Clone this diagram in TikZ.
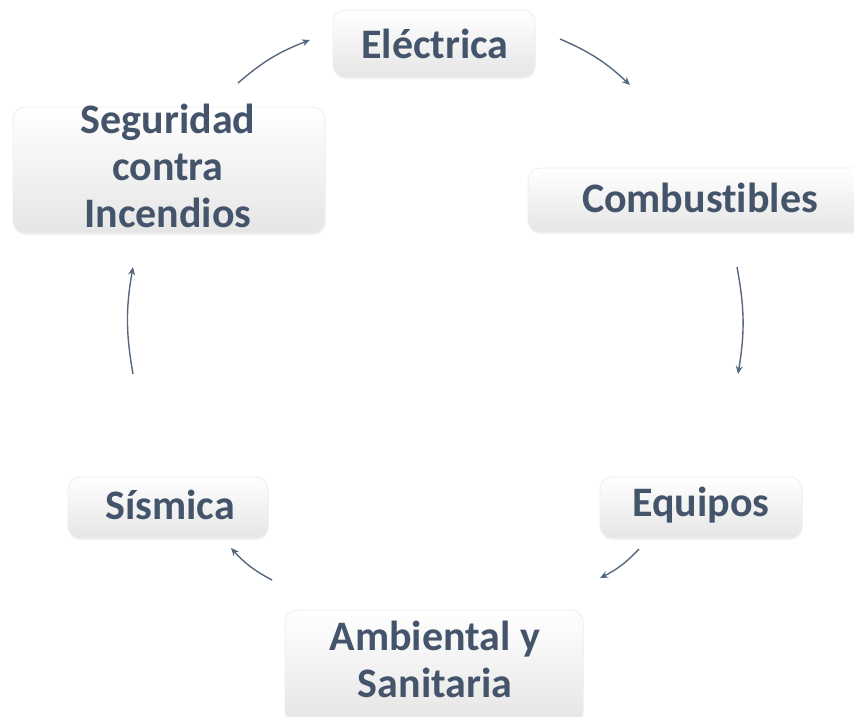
\documentclass[tikz,border=0pt]{standalone}
\usepackage{fontspec}
\setmainfont{Carlito}[Ligatures={NoCommon}]
\usetikzlibrary{arrows.meta,shadows}
\definecolor{txt}{HTML}{44546A}
\definecolor{arr}{HTML}{56687E}
\tikzset{
  boxnode/.style={rectangle, rounded corners=12pt, draw=black!7, line width=0.8pt,
    top color=white, bottom color=black!10, inner sep=0pt,
    drop shadow={opacity=0.10, shadow xshift=0.5pt, shadow yshift=-2pt}},
  label/.style={text=txt, font=\fontsize{42}{47}\selectfont\bfseries, align=center, inner sep=0pt},
  cyc/.style={draw=arr, line width=1.4pt, -{Stealth[length=8pt,width=7pt]}, bend left=10}
}
\begin{document}
\begin{tikzpicture}[x=1pt,y=-1pt]
\useasboundingbox (0,0) rectangle (854,716);
% boxes
\node[boxnode, minimum width=202pt, minimum height=67pt] (b1) at (434,43.5) {};
\node[boxnode, minimum width=344pt, minimum height=64pt] (b2) at (700,200) {};
\node[boxnode, minimum width=202pt, minimum height=61pt] (b3) at (701,507.5) {};
\node[boxnode, minimum width=298pt, minimum height=112pt] (b4) at (434,666) {};
\node[boxnode, minimum width=200pt, minimum height=61pt] (b5) at (168,507.5) {};
\node[boxnode, minimum width=312pt, minimum height=126pt] (b6) at (169,170) {};
% texts
\node[label] (t1) at (435,44) {Eléctrica};
\node[label] (t2) at (700,198) {Combustibles};
\node[label] (t3) at (701,505) {Equipos};
\node[label] (t4) at (435,659) {Ambiental y\\Sanitaria};
\node[label] (t5) at (170,505) {Sísmica};
\node[label] (t6) at (168,166) {Seguridad\\contra\\Incendios};
% arrow end points
\coordinate (a1s) at (238,83);  \coordinate (a1e) at (310,40);
\coordinate (a2s) at (560,39);  \coordinate (a2e) at (630,85);
\coordinate (a3s) at (737,267); \coordinate (a3e) at (738,374);
\coordinate (a4s) at (639,549); \coordinate (a4e) at (600,578);
\coordinate (a5s) at (272,580); \coordinate (a5e) at (231,548);
\coordinate (a6s) at (133,374); \coordinate (a6e) at (133,267);
\draw[cyc] (a1s) to (a1e);
\draw[cyc] (a2s) to (a2e);
\draw[cyc] (a3s) to (a3e);
\draw[cyc] (a4s) to (a4e);
\draw[cyc] (a5s) to (a5e);
\draw[cyc] (a6s) to (a6e);
\end{tikzpicture}
\end{document}
